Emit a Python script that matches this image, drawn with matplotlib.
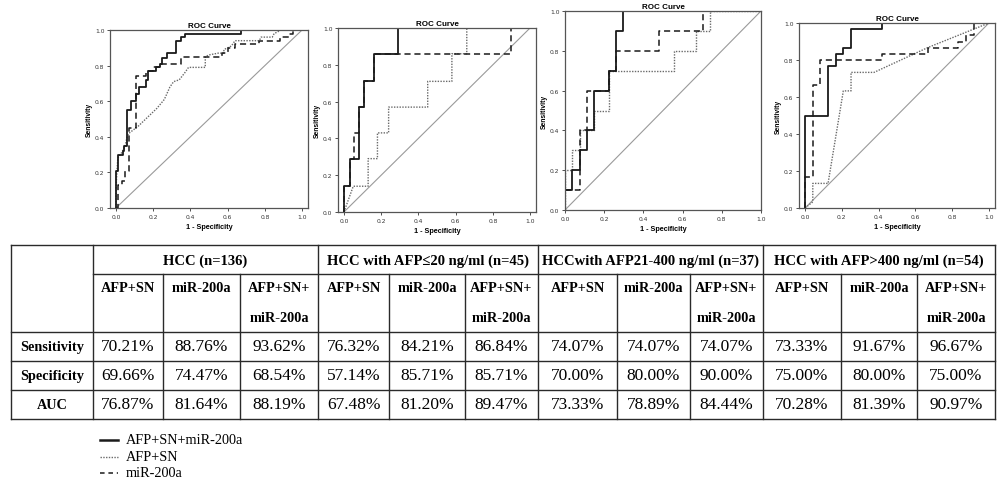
import matplotlib
matplotlib.use('Agg')
import matplotlib.pyplot as plt
import numpy as np

W, H = 997, 481

# ROC curve vertices (1 - specificity, sensitivity) for each patient group
# HCC (n=136)
all_combo_fpr = [0, 0, 0.0125, 0.0125, 0.036, 0.036, 0.045, 0.045, 0.058, 0.058, 0.08, 0.08, 0.11, 0.11,
                 0.123, 0.123, 0.16, 0.16, 0.174, 0.174, 0.217, 0.217, 0.239, 0.239, 0.25, 0.25, 0.272, 0.272,
                 0.32, 0.32, 0.348, 0.348, 0.37, 0.37, 0.674, 0.674, 1.0]
all_combo_tpr = [0, 0.21, 0.21, 0.30, 0.30, 0.32, 0.32, 0.35, 0.35, 0.55, 0.55, 0.60, 0.60, 0.64,
                 0.64, 0.68, 0.68, 0.72, 0.72, 0.77, 0.77, 0.79, 0.79, 0.81, 0.81, 0.84, 0.84, 0.87,
                 0.87, 0.94, 0.94, 0.96, 0.96, 0.98, 0.98, 1.0, 1.0]
all_afp_fpr = [0, 0, 0.005, 0.01, 0.03, 0.05, 0.06, 0.07, 0.12, 0.17, 0.22, 0.26, 0.29, 0.31, 0.34, 0.37,
               0.39, 0.48, 0.48, 0.50, 0.55, 0.58, 0.58, 0.62, 0.64, 0.77, 0.78, 0.84, 0.85, 0.87, 0.88, 1.0]
all_afp_tpr = [0, 0.10, 0.20, 0.28, 0.31, 0.35, 0.40, 0.42, 0.46, 0.51, 0.56, 0.61, 0.68, 0.71, 0.72, 0.76,
               0.79, 0.79, 0.85, 0.86, 0.87, 0.87, 0.89, 0.91, 0.94, 0.94, 0.96, 0.96, 0.98, 0.99, 1.0, 1.0]
all_mir_fpr = [0, 0.01, 0.01, 0.03, 0.03, 0.05, 0.05, 0.07, 0.07, 0.11, 0.11, 0.16, 0.16, 0.20, 0.20,
               0.24, 0.24, 0.35, 0.35, 0.57, 0.57, 0.60, 0.60, 0.64, 0.64, 0.77, 0.77, 0.88, 0.88, 0.93, 0.93,
               0.95, 0.95, 1.0]
all_mir_tpr = [0, 0, 0.13, 0.13, 0.15, 0.15, 0.21, 0.21, 0.45, 0.45, 0.74, 0.74, 0.77, 0.77, 0.79,
               0.79, 0.81, 0.81, 0.85, 0.85, 0.87, 0.87, 0.90, 0.90, 0.92, 0.92, 0.94, 0.94, 0.96, 0.96, 0.98,
               0.98, 1.0, 1.0]

# HCC with AFP<=20 ng/ml (n=45)
low_combo_fpr = [0, 0, 0.03, 0.03, 0.08, 0.08, 0.11, 0.11, 0.16, 0.16, 0.29, 0.29, 1.0]
low_combo_tpr = [0, 0.14, 0.14, 0.29, 0.29, 0.57, 0.57, 0.71, 0.71, 0.86, 0.86, 1.0, 1.0]
low_afp_fpr = [0, 0.05, 0.13, 0.13, 0.18, 0.18, 0.24, 0.24, 0.45, 0.45, 0.58, 0.58, 0.66, 0.66, 1.0]
low_afp_tpr = [0, 0.14, 0.14, 0.29, 0.29, 0.43, 0.43, 0.57, 0.57, 0.71, 0.71, 0.86, 0.86, 1.0, 1.0]
low_mir_fpr = [0, 0, 0.03, 0.03, 0.054, 0.054, 0.08, 0.08, 0.11, 0.11, 0.16, 0.16, 0.90, 0.90, 1.0]
low_mir_tpr = [0, 0.14, 0.14, 0.29, 0.29, 0.43, 0.43, 0.57, 0.57, 0.71, 0.71, 0.86, 0.86, 1.0, 1.0]

# HCC with AFP 21-400 ng/ml (n=37)
mid_combo_fpr = [0, 0, 0.037, 0.037, 0.074, 0.074, 0.111, 0.111, 0.148, 0.148, 0.222, 0.222,
                 0.259, 0.259, 0.296, 0.296, 1.0]
mid_combo_tpr = [0, 0.1, 0.1, 0.2, 0.2, 0.3, 0.3, 0.4, 0.4, 0.6, 0.6, 0.7, 0.7, 0.9, 0.9, 1.0, 1.0]
mid_afp_fpr = [0, 0, 0.037, 0.037, 0.074, 0.074, 0.148, 0.148, 0.222, 0.222, 0.556, 0.556,
               0.667, 0.667, 0.741, 0.741, 1.0]
mid_afp_tpr = [0, 0.2, 0.2, 0.3, 0.3, 0.4, 0.4, 0.5, 0.5, 0.7, 0.7, 0.8, 0.8, 0.9, 0.9, 1.0, 1.0]
mid_mir_fpr = [0, 0, 0.074, 0.074, 0.111, 0.111, 0.222, 0.222, 0.259, 0.259, 0.481, 0.481, 0.704, 0.704, 1.0]
mid_mir_tpr = [0, 0.1, 0.1, 0.4, 0.4, 0.6, 0.6, 0.7, 0.7, 0.8, 0.8, 0.9, 0.9, 1.0, 1.0]

# HCC with AFP>400 ng/ml (n=54)
high_combo_fpr = [0, 0, 0.125, 0.125, 0.167, 0.167, 0.208, 0.208, 0.25, 0.25, 0.417, 0.417, 1.0]
high_combo_tpr = [0, 0.5, 0.5, 0.767, 0.767, 0.833, 0.833, 0.867, 0.867, 0.967, 0.967, 1.0, 1.0]
high_afp_fpr = [0, 0.042, 0.042, 0.125, 0.208, 0.25, 0.25, 0.375, 0.667, 1.0]
high_afp_tpr = [0, 0.033, 0.133, 0.133, 0.633, 0.633, 0.733, 0.733, 0.867, 1.0]
high_mir_fpr = [0, 0, 0.042, 0.042, 0.083, 0.083, 0.417, 0.417, 0.667, 0.667, 0.833, 0.833,
                0.875, 0.875, 0.917, 0.917, 1.0]
high_mir_tpr = [0, 0.167, 0.167, 0.667, 0.667, 0.8, 0.8, 0.833, 0.833, 0.867, 0.867, 0.9, 0.9,
                0.933, 0.933, 1.0, 1.0]

curves = [
    (all_combo_fpr, all_combo_tpr, all_afp_fpr, all_afp_tpr, all_mir_fpr, all_mir_tpr),
    (low_combo_fpr, low_combo_tpr, low_afp_fpr, low_afp_tpr, low_mir_fpr, low_mir_tpr),
    (mid_combo_fpr, mid_combo_tpr, mid_afp_fpr, mid_afp_tpr, mid_mir_fpr, mid_mir_tpr),
    (high_combo_fpr, high_combo_tpr, high_afp_fpr, high_afp_tpr, high_mir_fpr, high_mir_tpr),
]

# table contents
groups = ['HCC (n=136)', 'HCC with AFP\u226420 ng/ml (n=45)',
          'HCCwith AFP21-400 ng/ml (n=37)', 'HCC with AFP>400 ng/ml (n=54)']
methods = ['AFP+SN', 'miR-200a', 'AFP+SN+\nmiR-200a']
row_names = ['Sensitivity', 'Specificity', 'AUC']
sensitivity = [70.21, 88.76, 93.62, 76.32, 84.21, 86.84, 74.07, 74.07, 74.07, 73.33, 91.67, 96.67]
specificity = [69.66, 74.47, 68.54, 57.14, 85.71, 85.71, 70.00, 80.00, 90.00, 75.00, 80.00, 75.00]
auc = [76.87, 81.64, 88.19, 67.48, 81.20, 89.47, 73.33, 78.89, 84.44, 70.28, 81.39, 90.97]
legend_labels = ['AFP+SN+miR-200a', 'AFP+SN', 'miR-200a']

SERIF = ['Liberation Serif', 'DejaVu Serif']
SANS = ['Liberation Sans', 'DejaVu Sans']

solid_kw = dict(color='#1a1a1a', lw=1.3, ls='-')
dot_kw = dict(color='#6a6a6a', lw=1.0, ls=(0, (1, 1)))
dash_kw = dict(color='#1a1a1a', lw=1.1, ls=(0, (4, 2.5)))

fig = plt.figure(figsize=(W / 100, H / 100), dpi=100)


def px_axes(left, top, right, bottom):
    return fig.add_axes([left / W, 1 - bottom / H, (right - left) / W, (bottom - top) / H])


# frame boxes in pixels (left, top, right, bottom) and horizontal padding
boxes = [(110, 31, 308, 209), (338, 29, 536, 213), (565, 12, 761, 211), (799, 24, 995, 209)]
pads = [0.032, 0.032, 0.0, 0.033]

for (l, t, r, b), pad, cv in zip(boxes, pads, curves):
    ax = px_axes(l, t, r, b)
    cf, ct, af, at, mf, mt = cv
    ax.plot([0, 1], [0, 1], color='#9a9a9a', lw=0.8)
    ax.plot(af, at, **dot_kw)
    ax.plot(mf, mt, **dash_kw)
    ax.plot(cf, ct, **solid_kw)
    ax.set_xlim(-pad, 1 + pad)
    ax.set_ylim(0, 1)
    ticks = np.arange(0, 1.01, 0.2)
    ax.set_xticks(ticks)
    ax.set_yticks(ticks)
    ax.set_xticklabels([f'{v:.1f}' for v in ticks])
    ax.set_yticklabels([f'{v:.1f}' for v in ticks])
    ax.tick_params(length=2.5, width=0.6, labelsize=4.3, pad=1.5, colors='#333333')
    for sp in ax.spines.values():
        sp.set_linewidth(0.9)
        sp.set_color('#555555')
    ax.set_title('ROC Curve', fontsize=5.8, fontweight='bold', family=SANS, pad=2.5)
    ax.set_xlabel('1 - Specificity', fontsize=5.2, fontweight='bold', family=SANS, labelpad=3)
    ax.set_ylabel('Sensitivity', fontsize=4.9, fontweight='bold', family=SANS, labelpad=1.5)

# table and legend drawn on a pixel-space overlay
ov = fig.add_axes([0, 0, 1, 1])
ov.set_xlim(0, W)
ov.set_ylim(H, 0)
ov.axis('off')

col_x = [11, 93, 163, 240, 318, 389, 465, 538, 617, 690, 763, 841, 917, 995]
row_y = [246, 275, 333, 362, 391, 420]
line_kw = dict(color='#2a2a2a', lw=1.0)

# outer border and horizontal rules
ov.plot([col_x[0], col_x[-1]], [row_y[0], row_y[0]], **line_kw)
ov.plot([col_x[1], col_x[-1]], [row_y[1], row_y[1]], **line_kw)
for yy in row_y[2:]:
    ov.plot([col_x[0], col_x[-1]], [yy, yy], **line_kw)
# vertical rules: group borders run full height, method borders start below group row
for i, xx in enumerate(col_x):
    if i in (0, 1, 4, 7, 10, 13):
        ov.plot([xx, xx], [row_y[0], row_y[-1]], **line_kw)
    else:
        ov.plot([xx, xx], [row_y[1], row_y[-1]], **line_kw)

for g, name in enumerate(groups):
    x0, x1 = col_x[1 + 3 * g], col_x[4 + 3 * g]
    ov.text((x0 + x1) / 2, 261, name, ha='center', va='center', fontsize=10.5,
            fontweight='bold', family=SERIF)
    for m, meth in enumerate(methods):
        cx = (col_x[1 + 3 * g + m] + col_x[2 + 3 * g + m]) / 2
        for k, part in enumerate(meth.split('\n')):
            ov.text(cx, 289 + 30 * k, part, ha='center', va='center', fontsize=10.3,
                    fontweight='bold', family=SERIF)

row_vals = [sensitivity, specificity, auc]
for r, (rname, vals) in enumerate(zip(row_names, row_vals)):
    cy = (row_y[2 + r] + row_y[3 + r]) / 2
    ov.text((col_x[0] + col_x[1]) / 2, cy, rname, ha='center', va='center', fontsize=10.3,
            fontweight='bold', family=SERIF)
    for c, v in enumerate(vals):
        cx = (col_x[1 + c] + col_x[2 + c]) / 2
        ov.text(cx, cy, f'{v:.2f}%', ha='center', va='center', fontsize=12.5, family=SERIF)

# legend
for k, (lab, kw) in enumerate(zip(legend_labels, [solid_kw, dot_kw, dash_kw])):
    yy = 441 + 16.5 * k
    style = dict(kw)
    if k == 0:
        style['lw'] = 1.8
    elif k == 2:
        style['ls'] = (0, (3, 2.5))
    ov.plot([100, 118], [yy, yy], **style)
    ov.text(126, yy, lab, ha='left', va='center', fontsize=10.3, family=SERIF)

fig.savefig('out.png', dpi=100)
